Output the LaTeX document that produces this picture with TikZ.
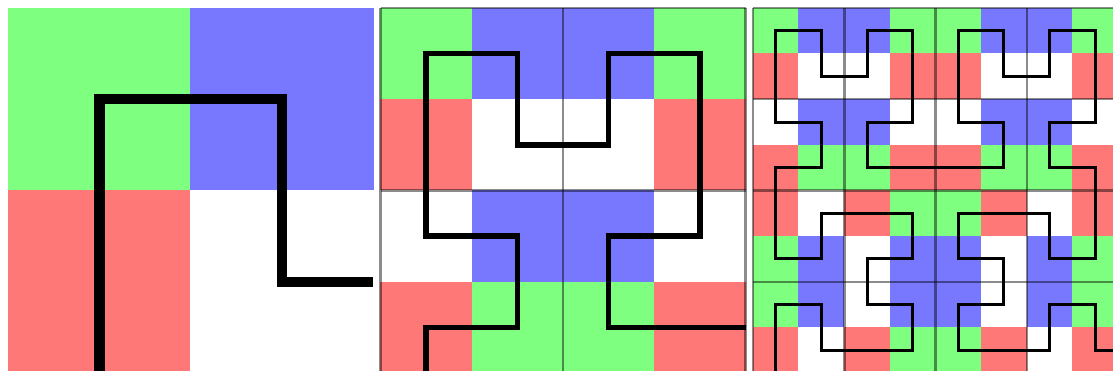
\documentclass[tikz,border=0pt]{standalone}
\usepackage{tikz}

\definecolor{hgreen}{RGB}{127,255,127}
\definecolor{hblue}{RGB}{120,120,255}
\definecolor{hred}{RGB}{255,120,120}
\colorlet{hwhite}{white}

\begin{document}
\begin{tikzpicture}[x=1pt, y=-1pt]
    \tikzstyle{cell}=[line width=0.3pt]
    \tikzstyle{curve}=[draw=black, line join=miter]
    \tikzstyle{gridline}=[draw=black, draw opacity=0.45, line width=2.5pt]
    \useasboundingbox (0,0) rectangle (1113,371);
    \clip (0,0) rectangle (1113,371);
    % order 1
    \begin{scope}[xshift=8pt, yshift=-8pt, x=182.5pt, y=-182.5pt]
      \foreach \cells [count=\j from 0] in {{hgreen,hblue},{hred,hwhite}} {
        \foreach \c [count=\i from 0] in \cells {
          \path[cell, fill=\c, draw=\c] (\i,\j) rectangle ++(1,1);
        }
      }
      \draw[curve, line width=10.5pt] (0.5,2.1) -- (0.5,0.5) -- (1.5,0.5) -- (1.5,1.5) -- (2,1.5);
    \end{scope}
    % order 2
    \begin{scope}[xshift=380.5pt, yshift=-8pt, x=91.25pt, y=-91.25pt]
      \foreach \cells [count=\j from 0] in {{hgreen,hblue,hblue,hgreen},{hred,hwhite,hwhite,hred},
                                            {hwhite,hblue,hblue,hwhite},{hred,hgreen,hgreen,hred}} {
        \foreach \c [count=\i from 0] in \cells {
          \path[cell, fill=\c, draw=\c] (\i,\j) rectangle ++(1,1);
        }
      }
      \foreach \k in {0,2,4} {
        \draw[gridline] (\k,0) -- (\k,4);
        \draw[gridline] (0,\k) -- (4,\k);
      }
      \draw[curve, line width=5.5pt] (0.5,4.1) -- (0.5,3.5) -- (1.5,3.5) -- (1.5,2.5) -- (0.5,2.5)
        -- (0.5,0.5) -- (1.5,0.5) -- (1.5,1.5) -- (2.5,1.5) -- (2.5,0.5) -- (3.5,0.5)
        -- (3.5,2.5) -- (2.5,2.5) -- (2.5,3.5) -- (4,3.5);
    \end{scope}
    % order 3
    \begin{scope}[xshift=753pt, yshift=-8pt, x=45.625pt, y=-45.625pt]
      \foreach \cells [count=\j from 0] in {
          {hgreen,hblue,hblue,hgreen,hgreen,hblue,hblue,hgreen},
          {hred,hwhite,hwhite,hred,hred,hwhite,hwhite,hred},
          {hwhite,hblue,hblue,hwhite,hwhite,hblue,hblue,hwhite},
          {hred,hgreen,hgreen,hred,hred,hgreen,hgreen,hred},
          {hred,hwhite,hred,hgreen,hgreen,hred,hwhite,hred},
          {hgreen,hblue,hwhite,hblue,hblue,hwhite,hblue,hgreen},
          {hgreen,hblue,hwhite,hblue,hblue,hwhite,hblue,hgreen},
          {hred,hwhite,hred,hgreen,hgreen,hred,hwhite,hred}} {
        \foreach \c [count=\i from 0] in \cells {
          \path[cell, fill=\c, draw=\c] (\i,\j) rectangle ++(1,1);
        }
      }
      \foreach \k in {0,2,...,8} {
        \draw[gridline] (\k,0) -- (\k,8);
        \draw[gridline] (0,\k) -- (8,\k);
      }
      \draw[curve, line width=3pt] (0.5,8.1) -- (0.5,6.5) -- (1.5,6.5) -- (1.5,7.5) -- (3.5,7.5)
        -- (3.5,6.5) -- (2.5,6.5) -- (2.5,5.5) -- (3.5,5.5) -- (3.5,4.5) -- (1.5,4.5)
        -- (1.5,5.5) -- (0.5,5.5) -- (0.5,3.5) -- (1.5,3.5) -- (1.5,2.5) -- (0.5,2.5)
        -- (0.5,0.5) -- (1.5,0.5) -- (1.5,1.5) -- (2.5,1.5) -- (2.5,0.5) -- (3.5,0.5)
        -- (3.5,2.5) -- (2.5,2.5) -- (2.5,3.5) -- (5.5,3.5) -- (5.5,2.5) -- (4.5,2.5)
        -- (4.5,0.5) -- (5.5,0.5) -- (5.5,1.5) -- (6.5,1.5) -- (6.5,0.5) -- (7.5,0.5)
        -- (7.5,2.5) -- (6.5,2.5) -- (6.5,3.5) -- (7.5,3.5) -- (7.5,5.5) -- (6.5,5.5)
        -- (6.5,4.5) -- (4.5,4.5) -- (4.5,5.5) -- (5.5,5.5) -- (5.5,6.5) -- (4.5,6.5)
        -- (4.5,7.5) -- (6.5,7.5) -- (6.5,6.5) -- (7.5,6.5) -- (7.5,7.5) -- (8.2,7.5);
    \end{scope}
\end{tikzpicture}
\end{document}
